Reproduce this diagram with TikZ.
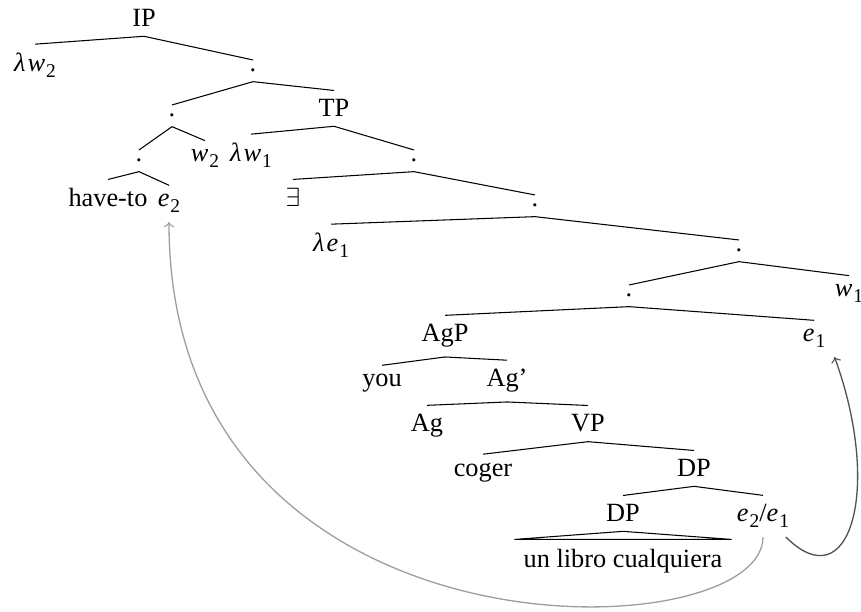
\documentclass[tikz,border=0pt]{standalone}
\usepackage{fontspec}
\setmainfont{Liberation Serif}
% italic variable with a lowered numeric index
\newcommand\ivar[2]{\textit{#1}\kern0.04em\raisebox{-0.22em}{\fontsize{7.4}{8}\selectfont #2}}
\newcommand\lam{\textit{λ}\kern0.08em}
\begin{document}
\begin{tikzpicture}[
    x=0.38pt, y=-0.38pt,
    lbl/.style={inner sep=0.333em, anchor=base, font=\fontsize{10}{12}\selectfont},
    branch/.style={draw=black, line width=0.4pt},
    lightlink/.style={draw=black!38, line width=0.5pt, ->},
    darklink/.style={draw=black!68, line width=0.5pt, ->}
  ]
  \useasboundingbox (0,0) rectangle (861,612);

  % labels, placed at their baselines
  \node[lbl] (ip)     at (144,27)  {IP};
  \node[lbl] (lw2)    at (35,72)   {\lam\ivar{w}{2}};
  \node[lbl] (d1)     at (253,72)  {.};
  \node[lbl] (d2)     at (172,117) {.};
  \node[lbl] (tp)     at (334,117) {TP};
  \node[lbl] (d3)     at (139,162) {.};
  \node[lbl] (w2)     at (205,162) {\ivar{w}{2}};
  \node[lbl] (lw1)    at (251,162) {\lam\ivar{w}{1}};
  \node[lbl] (d4)     at (414,162) {.};
  \node[lbl] (haveto) at (108,207) {have-to};
  \node[lbl] (e2)     at (169,207) {\ivar{e}{2}};
  \node[lbl] (ex)     at (293,207) {$\exists$};
  \node[lbl] (d5)     at (535,207) {.};
  \node[lbl] (le1)    at (331,252) {\lam\ivar{e}{1}};
  \node[lbl] (d6)     at (739,252) {.};
  \node[lbl] (d7)     at (629,297) {.};
  \node[lbl] (w1)     at (849,297) {\ivar{w}{1}};
  \node[lbl] (agp)    at (445,342) {AgP};
  \node[lbl] (e1)     at (814,342) {\ivar{e}{1}};
  \node[lbl] (you)    at (382,387) {you};
  \node[lbl] (agbar)  at (507,387) {Ag’};
  \node[lbl] (ag)     at (427,432) {Ag};
  \node[lbl] (vp)     at (588,432) {VP};
  \node[lbl] (coger)  at (483,477) {coger};
  \node[lbl] (dp)     at (694,477) {DP};
  \node[lbl] (dpb)    at (623,522) {DP};
  \node[lbl] (ee)     at (763,522) {\ivar{e}{2}/\ivar{e}{1}};
  \node[lbl] (ulc)    at (623,567) {un libro cualquiera};

  % branches
  \foreach \p/\c in {ip/lw2, ip/d1, d1/d2, d1/tp, d2/d3, d2/w2, d3/haveto, d3/e2,
                     tp/lw1, tp/d4, d4/ex, d4/d5, d5/le1, d5/d6, d6/d7, d6/w1,
                     d7/agp, d7/e1, agp/you, agp/agbar, agbar/ag, agbar/vp,
                     vp/coger, vp/dp, dp/dpb, dp/ee}
    \draw[branch] (\p.south) -- (\c.north);

  % roof over the unanalysed DP
  \draw[branch] (dpb.south) -- (ulc.north west) -- (ulc.north east) -- cycle;

  % binding links
  \draw[lightlink] (ee.south) .. controls +(0,115) and +(0,450) .. (e2.south);
  \draw[darklink] ([xshift=8.7pt]ee.south) .. controls +(64,64) and +(48,132) .. (e1.south east);
\end{tikzpicture}
\end{document}
